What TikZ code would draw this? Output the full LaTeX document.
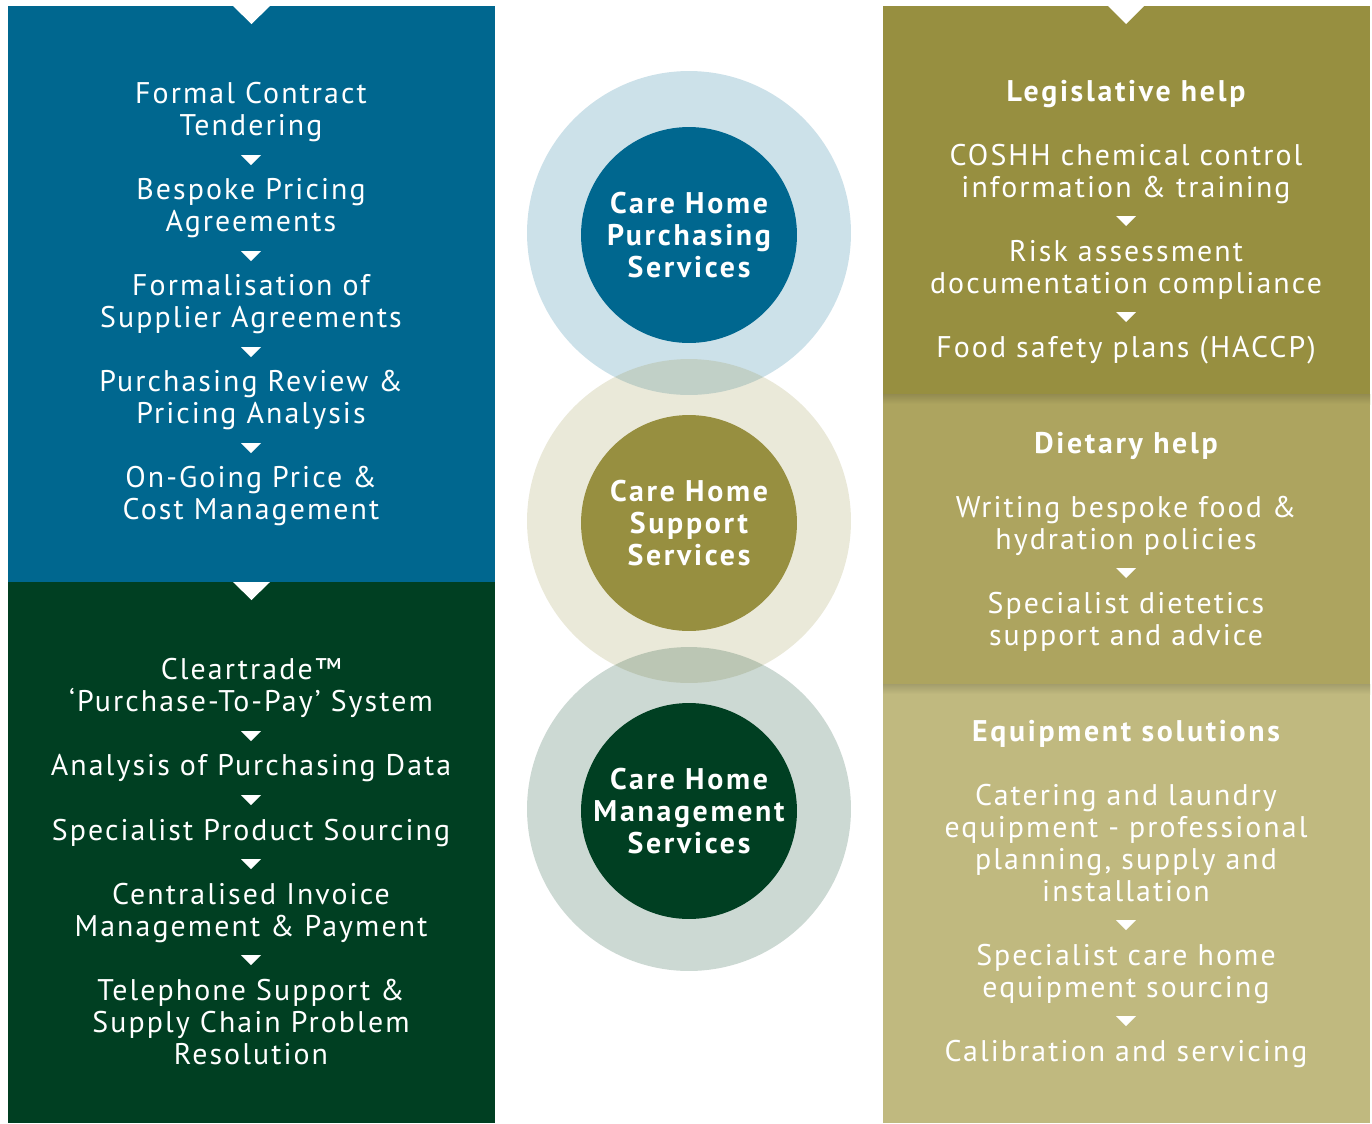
\documentclass[tikz,border=0pt]{standalone}
\usepackage{fontspec}
\setmainfont{PT Sans}[LetterSpace=7, BoldFeatures={LetterSpace=9}]
\definecolor{purchblue}{RGB}{0,103,143}
\definecolor{mgmtgreen}{RGB}{0,63,34}
\definecolor{supportolive}{RGB}{151,143,64}
\definecolor{dietolive}{RGB}{173,164,95}
\definecolor{equipolive}{RGB}{192,185,127}

\begin{document}
\begin{tikzpicture}[x=0.02cm, y=-0.02cm,
    item/.style={text=white, align=center, yshift=-0.06cm, font=\fontsize{17}{18.1}\selectfont},
    heading/.style={item, font=\fontsize{17}{18.1}\selectfont\bfseries},
    hub/.style={circle, minimum size=4.32cm, inner sep=0pt, text=white, align=center,
        font=\fontsize{17}{18.1}\selectfont\bfseries},
    ring/.style={circle, minimum size=6.48cm, inner sep=0pt, fill opacity=0.2},
    marker/.style={fill=white}]
    \useasboundingbox (0,0) rectangle (1372,1123);
    % left panels.
    \fill[purchblue] (8,6) rectangle (495,582);
    \fill[mgmtgreen] (8,582) rectangle (495,1123);
    \fill[white] (233,6) -- (270,6) -- (251.5,24) -- cycle;
    \fill[white] (233,582) -- (270,582) -- (251.5,600) -- cycle;
    % right panels.
    \fill[supportolive] (883,6) rectangle (1370,394);
    \fill[dietolive] (883,394) rectangle (1370,684);
    \fill[equipolive] (883,684) rectangle (1370,1123);
    \shade[top color=dietolive!85!black, bottom color=dietolive] (883,394) rectangle (1370,404);
    \shade[top color=equipolive!85!black, bottom color=equipolive] (883,684) rectangle (1370,694);
    \fill[white] (1108,6) -- (1144,6) -- (1126,24) -- cycle;
    % outer rings.
    \node[ring, fill=purchblue] (purchasing ring) at (689,233) {};
    \node[ring, fill=supportolive] (support ring) at (689,521) {};
    \node[ring, fill=mgmtgreen] (management ring) at (689,809) {};
    % hubs.
    \node[hub, fill=purchblue] (purchasing) at (689,235) {Care Home\\Purchasing\\Services};
    \node[hub, fill=supportolive] (support) at (689,523) {Care Home\\Support\\Services};
    \node[hub, fill=mgmtgreen] (management) at (689,811) {Care Home\\Management\\Services};
    % purchasing steps.
    \node[item] (tendering) at (251,109) {Formal Contract\\Tendering};
    \node[item] (pricing) at (251,205) {Bespoke Pricing\\Agreements};
    \node[item] (formalisation) at (251,301) {Formalisation of\\Supplier Agreements};
    \node[item] (review) at (251,397) {Purchasing Review \&\\Pricing Analysis};
    \node[item] (cost) at (251,493) {On-Going Price \&\\Cost Management};
    % management steps.
    \node[item] (cleartrade) at (251,685) {Cleartrade™\\`Purchase-To-Pay' System};
    \node[item] (analysis) at (251,765) {Analysis of Purchasing Data};
    \node[item] (sourcing) at (251,830) {Specialist Product Sourcing};
    \node[item] (invoice) at (251,910) {Centralised Invoice\\Management \& Payment};
    \node[item] (telephone) at (251,1019) {Telephone Support \&\\Supply Chain Problem\\Resolution};
    % legislative help.
    \node[heading] (legislative) at (1126,91) {Legislative help};
    \node[item] (coshh) at (1126,171) {COSHH chemical control\\information \& training};
    \node[item] (risk) at (1126,267) {Risk assessment\\documentation compliance};
    \node[item] (haccp) at (1126,347) {Food safety plans (HACCP)};
    % dietary help.
    \node[heading] (dietary) at (1126,443) {Dietary help};
    \node[item] (policies) at (1126,523) {Writing bespoke food \&\\hydration policies};
    \node[item] (dietetics) at (1126,619) {Specialist dietetics\\support and advice};
    % equipment solutions.
    \node[heading] (equipment) at (1126,731) {Equipment solutions};
    \node[item] (catering) at (1126,840) {Catering and laundry\\equipment - professional\\planning, supply and\\installation};
    \node[item] (care equipment) at (1126,971) {Specialist care home\\equipment sourcing};
    \node[item] (calibration) at (1126,1051) {Calibration and servicing};
    % step markers.
    \foreach \x/\y in {251/160, 251/256, 251/352, 251/448,
                       251/736, 251/800, 251/864, 251/960,
                       1126/221, 1126/317, 1126/573, 1126/925, 1126/1021}
        \fill[marker] (\x-10,\y-5) -- (\x+10,\y-5) -- (\x,\y+5) -- cycle;
\end{tikzpicture}
\end{document}
